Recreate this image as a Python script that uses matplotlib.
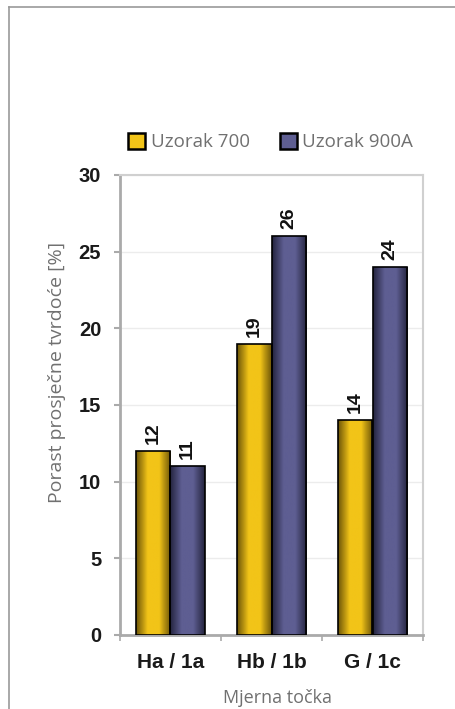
import numpy as np
import matplotlib
matplotlib.use('Agg')
import matplotlib.pyplot as plt
from matplotlib.lines import Line2D
from matplotlib.patches import Patch
from matplotlib.colors import LinearSegmentedColormap

categories = ['Ha / 1a', 'Hb / 1b', 'G / 1c']
series_names = ['Uzorak 700', 'Uzorak 900A']
uzorak_700 = [12, 19, 14]
uzorak_900a = [11, 26, 24]
y_ticks = [0, 5, 10, 15, 20, 25, 30]

colors = ['#F2C418', '#5E5E92']
edge_dark = ['#6E5608', '#25253F']
text_grey = '#707070'

fig = plt.figure(figsize=(4.56, 7.09), dpi=100)
ax = fig.add_axes([120 / 456, 1 - 635 / 709, 303 / 456, 460 / 709])

x = np.arange(len(categories))
w = 0.34
bars_a = ax.bar(x - w / 2, uzorak_700, w, color=colors[0], edgecolor='black', linewidth=1.2, zorder=3)
bars_b = ax.bar(x + w / 2, uzorak_900a, w, color=colors[1], edgecolor='black', linewidth=1.2, zorder=3)


def shade(bars, c_mid, c_edge):
    # horizontal gradient inside each bar, clipped to the bar
    cmap = LinearSegmentedColormap.from_list('g', [c_edge, c_mid, c_mid, c_edge])
    grad = np.linspace(0, 1, 64).reshape(1, -1)
    for p in bars:
        x0, y0 = p.get_x(), p.get_y()
        im = ax.imshow(grad, cmap=cmap, aspect='auto', zorder=3.5,
                       extent=(x0, x0 + p.get_width(), y0, y0 + p.get_height()))
        im.set_clip_path(p)
        p.set_facecolor('none')
        p.set_zorder(4)


shade(bars_a, colors[0], edge_dark[0])
shade(bars_b, colors[1], edge_dark[1])

for bars, vals in [(bars_a, uzorak_700), (bars_b, uzorak_900a)]:
    for p, v in zip(bars, vals):
        ax.text(p.get_x() + p.get_width() / 2, v + 0.45, f'{v}', rotation=90,
                ha='center', va='bottom', fontsize=14, fontweight='bold',
                family='Liberation Sans', color='#111111', zorder=5)

ax.set_xlim(-0.5, 2.5)
ax.set_ylim(0, 30)
ax.set_yticks(y_ticks)
ax.set_yticklabels([str(t) for t in y_ticks], fontsize=14.5, fontweight='bold', family='Liberation Sans', color='#1a1a1a')
ax.set_xticks(x)
ax.set_xticklabels(categories, fontsize=15, fontweight='bold', family='Liberation Sans', color='#1a1a1a')
ax.set_xticks([-0.5, 0.5, 1.5, 2.5], minor=True)
ax.tick_params(axis='x', which='major', length=0, pad=13)
ax.tick_params(axis='x', which='minor', length=4, width=1.2, color='#aaaaaa')
ax.tick_params(axis='y', length=4.5, width=1.5, color='#aaaaaa', pad=9)
ax.yaxis.grid(True, color='#ececec', linewidth=1)
ax.set_axisbelow(True)

for s in ['left', 'bottom']:
    ax.spines[s].set_color('#aaaaaa')
    ax.spines[s].set_linewidth(2)
for s in ['top', 'right']:
    ax.spines[s].set_color('#d0d0d0')
    ax.spines[s].set_linewidth(1.5)

ax.set_ylabel('Porast prosječne tvrdoće [%]', fontsize=14, color=text_grey, family='Open Sans')
ax.yaxis.set_label_coords(-0.178, 0.57)
ax.set_xlabel('Mjerna točka', fontsize=13, color=text_grey, family='Open Sans')
ax.xaxis.set_label_coords(0.52, -0.118)

handles = [Patch(facecolor=c, edgecolor='black', linewidth=1.8) for c in colors]
leg = ax.legend(handles, series_names, loc='lower center', bbox_to_anchor=(0.497, 1.035), ncol=2, frameon=False,
                prop={'family': 'Open Sans', 'size': 13.5}, handlelength=0.9, handleheight=0.9,
                handletextpad=0.3, columnspacing=1.6, borderaxespad=0)
for t in leg.get_texts():
    t.set_color(text_grey)

# thin frame around the picture (top and left)
fig.add_artist(Line2D([9 / 456, 9 / 456], [0, 1 - 7 / 709], color='#9a9a9a', lw=1.2))
fig.add_artist(Line2D([9 / 456, 1], [1 - 7 / 709, 1 - 7 / 709], color='#9a9a9a', lw=1.2))

fig.savefig('out.png', dpi=100)
